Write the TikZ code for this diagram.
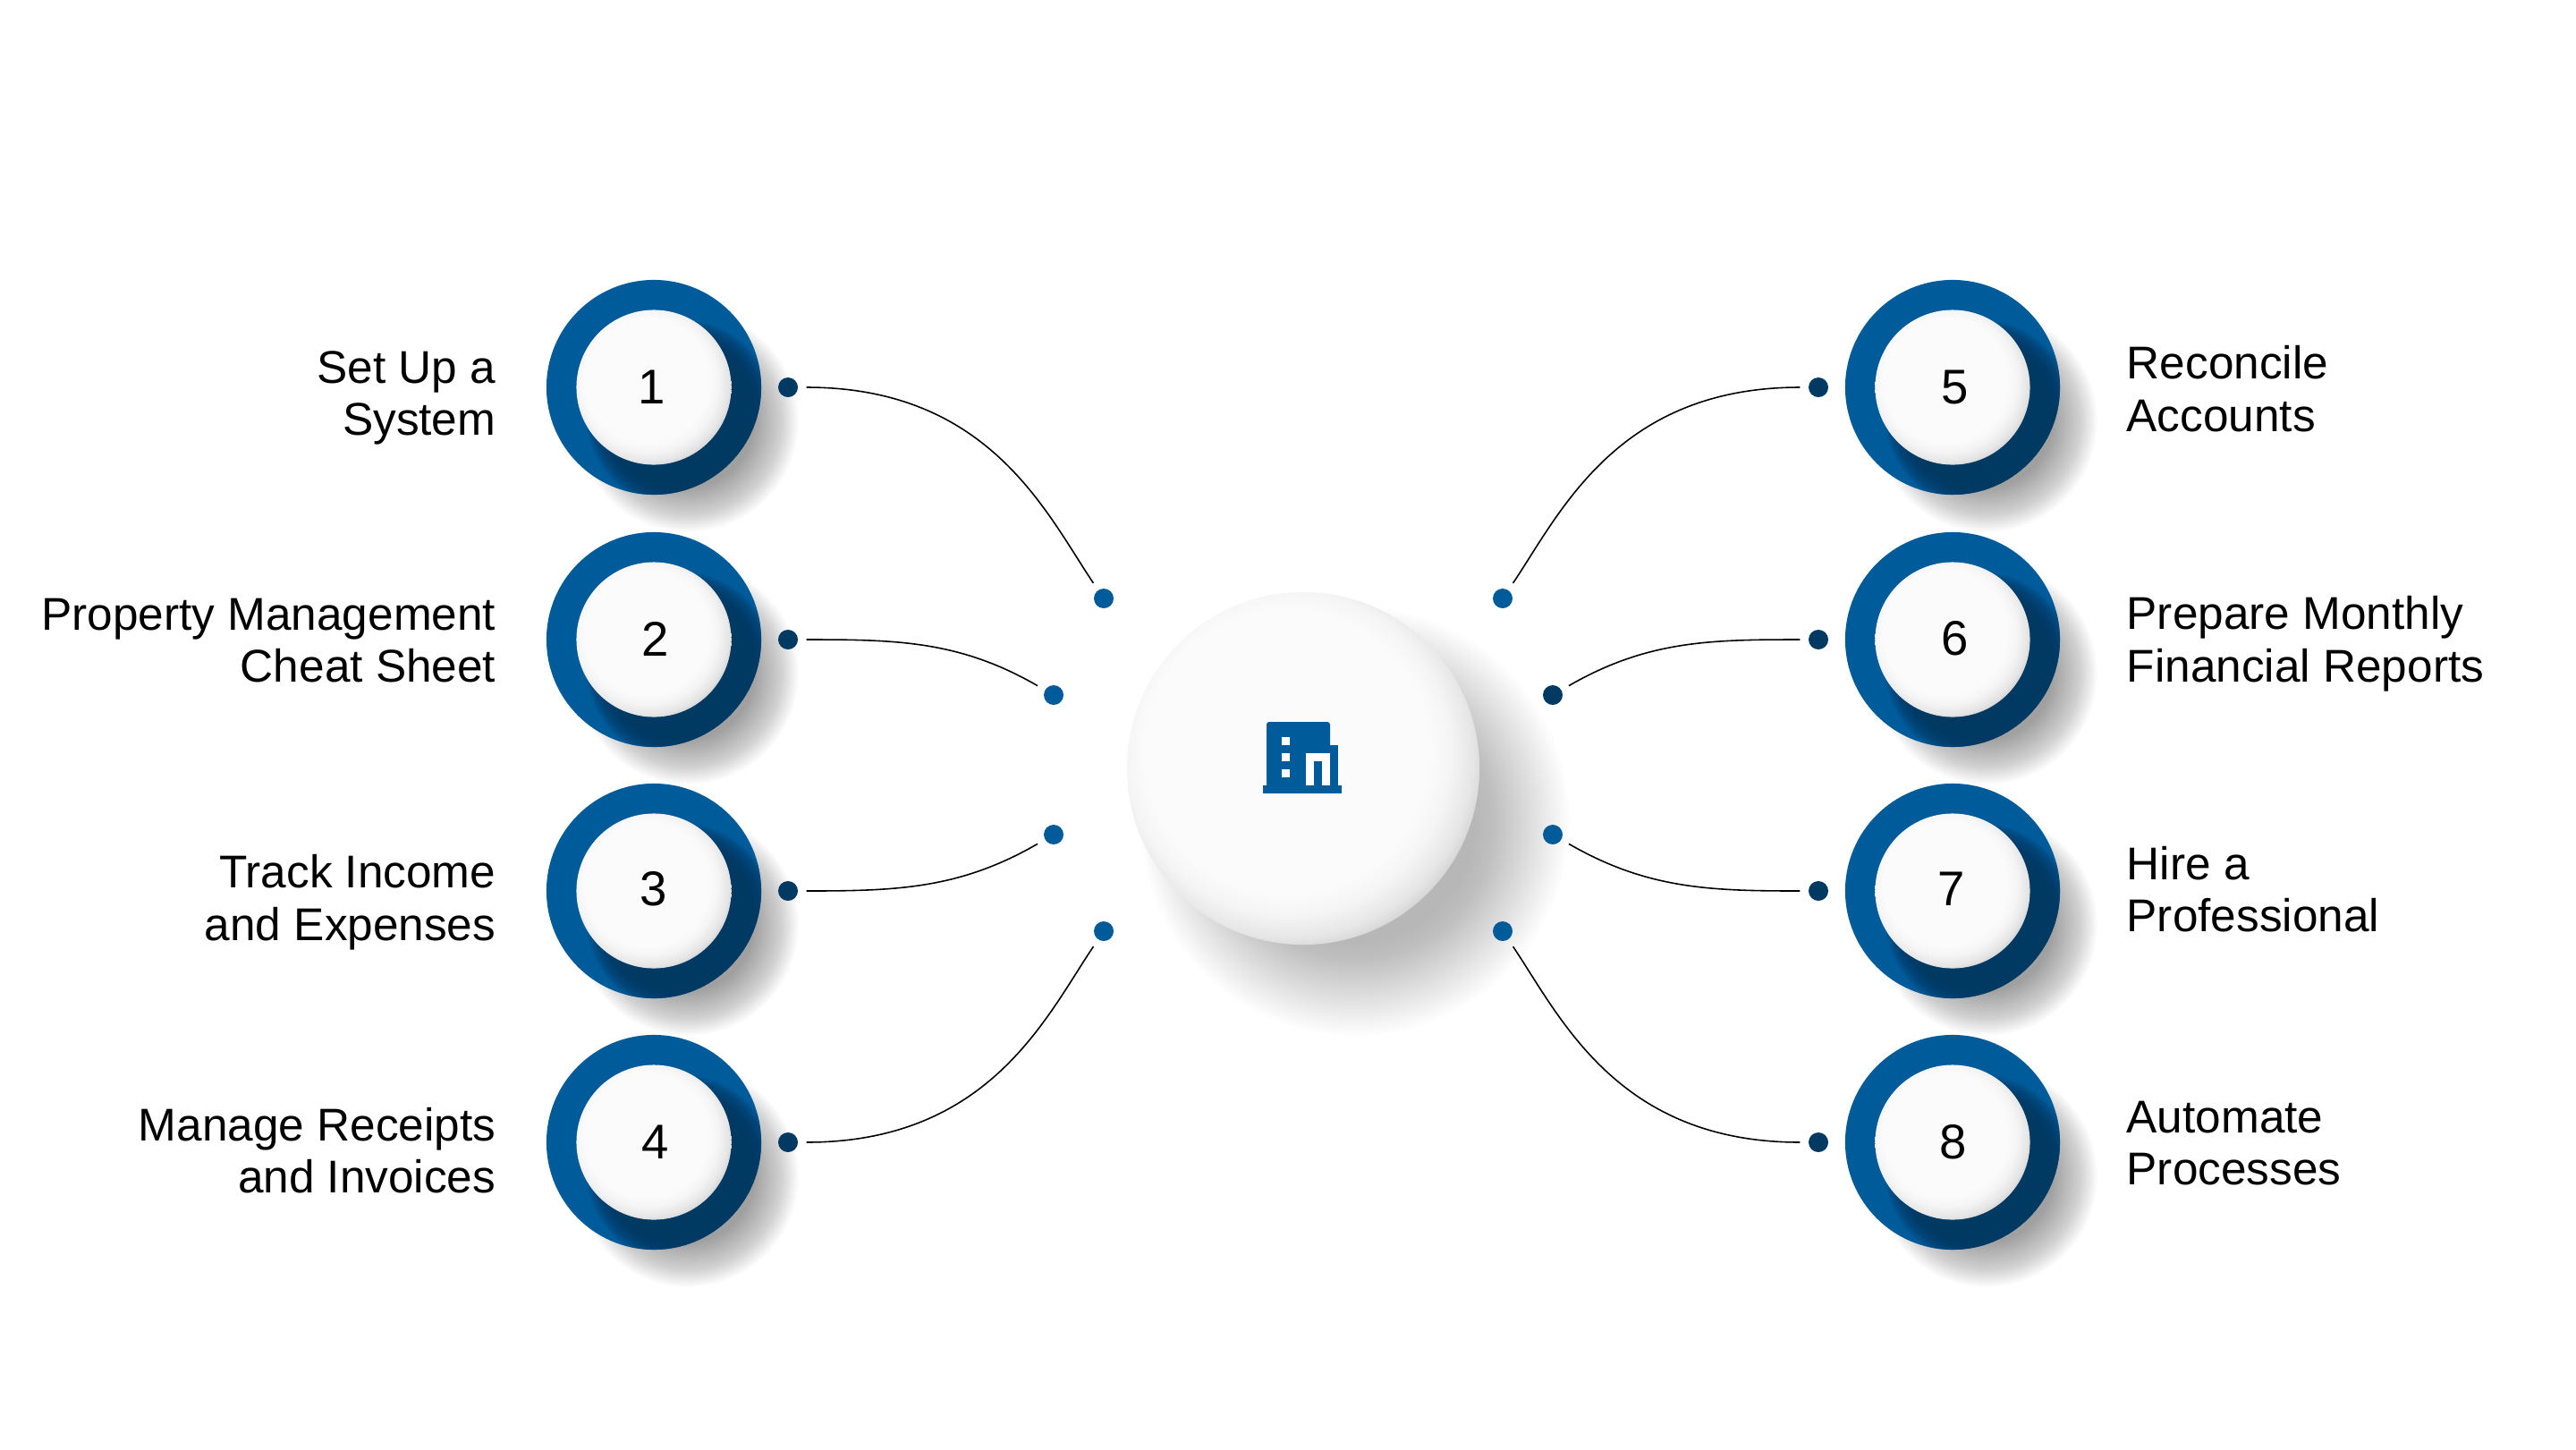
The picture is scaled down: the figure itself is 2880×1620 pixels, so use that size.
\documentclass[tikz,border=0pt]{standalone}
\usepackage{fontspec}
\setmainfont{Liberation Sans}
\definecolor{ringblue}{HTML}{005B9A}
\definecolor{ringdark}{HTML}{003A63}
\pgfdeclareradialshading{softball}{\pgfqpoint{-4bp}{4bp}}{%
 color(0bp)=(white!98.5!black); color(20bp)=(white!98.5!black);
 color(23bp)=(white!96!black); color(26bp)=(white!90!black); color(28bp)=(white!82!black); color(29bp)=(white!72!black); color(50bp)=(white!72!black)}
\tikzset{
 ring/.style={circle,fill=ringblue,minimum size=2.4cm,inner sep=0pt},
 ball/.style={circle,shading=softball,minimum size=1.73cm,inner sep=0pt},
 digit/.style={font=\fontsize{15.5}{15.5}\selectfont,inner sep=0pt},
 hub/.style={circle,shading=softball,minimum size=3.94cm,inner sep=0pt},
 pin/.style={circle,fill=ringblue,minimum size=0.22cm,inner sep=0pt},
 pindark/.style={pin,fill=ringdark},
 link/.style={black,line width=0.45pt,shorten <=0.09cm,shorten >=0.09cm},
 biglink/.style={link,out looseness=1.35,in looseness=0.65},
 lbl/.style={font=\fontsize{14.6}{16.7}\selectfont,inner sep=0pt},
 lblleft/.style={lbl,anchor=east,align=right},
 lblright/.style={lbl,anchor=west,align=left}
}
% stack of thin discs, for the soft shadows
\newcommand{\softdisc}[6]{%
 \foreach \k in {0,...,39}
  \fill[#5,opacity=#6] (#1,#2) circle ({#3+#4*(1-\k/39)});
}
\begin{document}
\begin{tikzpicture}[x=0.01cm,y=-0.01cm]
 \useasboundingbox (0,0) rectangle (2880,1620);

 % shadows on the page
 \softdisc{1515}{918}{135}{105}{black}{0.0095}
 \foreach \x in {731,2183}
  \foreach \y in {433,715,996,1277}
   \softdisc{\x+38}{\y+38}{74}{50}{black}{0.0105};

 % rings with the shadow of the ball on them
 \foreach \n/\x/\y in {1/731/433,2/731/715,3/731/996,4/731/1277,5/2183/433,6/2183/715,7/2183/996,8/2183/1277}{
  \node[ring] (r\n) at (\x,\y) {};
  \begin{scope}
   \clip (\x,\y) circle (120);
   \softdisc{\x+30}{\y+30}{74}{32}{ringdark}{0.07}
  \end{scope}
  \node[ball] (n\n) at (\x,\y) {};
 }

 \node[hub] (hub) at (1457,859) {};

 % numbers
 \node[digit] (d1) at (729,433) {1};
 \node[digit] (d2) at (733,714) {2};
 \node[digit] (d3) at (731,994) {3};
 \node[digit] (d4) at (733,1277) {4};
 \node[digit] (d5) at (2186,433) {5};
 \node[digit] (d6) at (2186,714) {6};
 \node[digit] (d7) at (2182,994) {7};
 \node[digit] (d8) at (2184,1277) {8};

 % labels
 \node[lblleft] (t1) at (555,445) {Set Up a\\System};
 \node[lblleft] (t2) at (555,716) {Property Management\\Cheat Sheet};
 \node[lblleft] (t3) at (555,1009) {Track Income\\and Expenses};
 \node[lblleft] (t4) at (555,1286) {Manage Receipts\\and Invoices};
 \node[lblright] (t5) at (2377,435) {Reconcile\\Accounts};
 \node[lblright] (t6) at (2377,720) {Prepare Monthly\\Financial Reports};
 \node[lblright] (t7) at (2377,994) {Hire a\\Professional};
 \node[lblright] (t8) at (2377,1278) {Automate\\Processes};

 % pins next to the rings
 \foreach \n/\x/\y in {1/881/433,2/881/715,3/881/996,4/881/1277,5/2033/433,6/2033/715,7/2033/996,8/2033/1277}
  \node[pindark] (a\n) at (\x,\y) {};

 % pins next to the hub
 \node[pin] (b1) at (1234,669) {};
 \node[pin] (b2) at (1178,777) {};
 \node[pin] (b3) at (1178,933) {};
 \node[pin] (b4) at (1234,1041) {};
 \node[pin] (b5) at (1680,669) {};
 \node[pindark] (b6) at (1736,777) {};
 \node[pin] (b7) at (1736,933) {};
 \node[pin] (b8) at (1680,1041) {};

 \draw[biglink] (a1) to[out=0,in=124] (b1);
 \draw[link] (a2) to[out=0,in=150] (b2);
 \draw[link] (a3) to[out=0,in=210] (b3);
 \draw[biglink] (a4) to[out=0,in=236] (b4);
 \draw[biglink] (a5) to[out=180,in=56] (b5);
 \draw[link] (a6) to[out=180,in=30] (b6);
 \draw[link] (a7) to[out=180,in=-30] (b7);
 \draw[biglink] (a8) to[out=180,in=-56] (b8);

 % building on the hub
 \fill[ringblue,rounded corners=0.03cm] (1416,880) -- (1416,807) -- (1487,807) -- (1487,880) -- cycle;
 \fill[ringblue] (1480,833) rectangle (1496,880);
 \fill[ringblue] (1412,878) rectangle (1500,887);
 \fill[white] (1433,824) rectangle (1442,833);
 \fill[white] (1433,842) rectangle (1442,851);
 \fill[white] (1433,860) rectangle (1442,869);
 \fill[white] (1460,842) rectangle (1487,878);
 \fill[ringblue] (1469,851) rectangle (1478,878);
\end{tikzpicture}
\end{document}
